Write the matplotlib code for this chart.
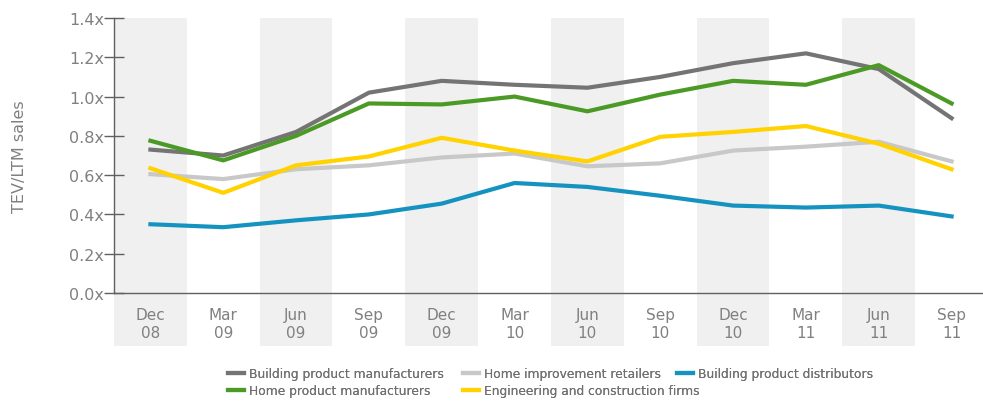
import matplotlib.pyplot as plt
from matplotlib.patches import Rectangle
import matplotlib.transforms as mtransforms

quarters = ["Dec\n08", "Mar\n09", "Jun\n09", "Sep\n09", "Dec\n09", "Mar\n10",
            "Jun\n10", "Sep\n10", "Dec\n10", "Mar\n11", "Jun\n11", "Sep\n11"]

building_mfr = [0.73, 0.70, 0.82, 1.02, 1.08, 1.06, 1.045, 1.10, 1.17, 1.22, 1.14, 0.89]
home_mfr = [0.775, 0.675, 0.80, 0.965, 0.96, 1.00, 0.925, 1.01, 1.08, 1.06, 1.16, 0.965]
home_retail = [0.605, 0.58, 0.63, 0.65, 0.69, 0.71, 0.645, 0.66, 0.725, 0.745, 0.77, 0.67]
engineering = [0.635, 0.51, 0.65, 0.695, 0.79, 0.725, 0.67, 0.795, 0.82, 0.85, 0.76, 0.63]
distributors = [0.35, 0.335, 0.37, 0.40, 0.455, 0.56, 0.54, 0.495, 0.445, 0.435, 0.445, 0.39]

text_col = "#808080"
x = list(range(len(quarters)))

fig = plt.figure(figsize=(9.83, 4.02), dpi=100)
ax = fig.add_axes([114 / 983, 1 - 294 / 402, 874 / 983, 275 / 402])

# shaded bands, every other quarter, reaching down behind the tick labels
trans = mtransforms.blended_transform_factory(ax.transData, ax.transAxes)
for i in range(0, len(quarters), 2):
    ax.add_patch(Rectangle((i - 0.5, -0.193), 1, 1.193, transform=trans,
                           facecolor="#f0f0f0", edgecolor="none", clip_on=False, zorder=0))

lw = 3
l1, = ax.plot(x, building_mfr, color="#747474", lw=lw, label="Building product manufacturers")
l2, = ax.plot(x, home_retail, color="#c8c8c8", lw=lw, label="Home improvement retailers")
l3, = ax.plot(x, distributors, color="#1593c0", lw=lw, label="Building product distributors")
l4, = ax.plot(x, home_mfr, color="#4b9a25", lw=lw, label="Home product manufacturers")
l5, = ax.plot(x, engineering, color="#ffd200", lw=lw, label="Engineering and construction firms")

ax.set_xlim(-0.5, 11.5)
ax.set_ylim(0, 1.4)
ax.set_yticks([0, 0.2, 0.4, 0.6, 0.8, 1.0, 1.2, 1.4])
ax.set_yticklabels(["%.1fx" % v for v in ax.get_yticks()])
ax.set_xticks(x)
ax.set_xticklabels(quarters, linespacing=1.25)
ax.tick_params(axis="y", direction="inout", length=14, width=1, color="#606060",
               labelsize=11.5, labelcolor=text_col, pad=0)
ax.tick_params(axis="x", length=0, labelsize=11, labelcolor=text_col, pad=10)
for s in ["top", "right"]:
    ax.spines[s].set_visible(False)
for s in ["left", "bottom"]:
    ax.spines[s].set_color("#606060")
    ax.spines[s].set_linewidth(1)
ax.set_ylabel("TEV/LTM sales", fontsize=11.5, color=text_col)
ax.yaxis.set_label_coords(-0.1, 0.5)

# legend laid out as in the original: two rows, second row under the first two columns
spots = [(l1, 228, 375), (l2, 463, 375), (l3, 677, 375), (l4, 228, 392), (l5, 463, 392)]
for line, px, py in spots:
    lg = fig.legend(handles=[line], loc="center left", bbox_to_anchor=(px / 983, 1 - py / 402),
                    frameon=False, fontsize=8.8, labelcolor="#707070", borderpad=0,
                    borderaxespad=0, handlelength=1.3, handletextpad=0.4)
    fig.add_artist(lg)

fig.savefig("out.png", dpi=100)
